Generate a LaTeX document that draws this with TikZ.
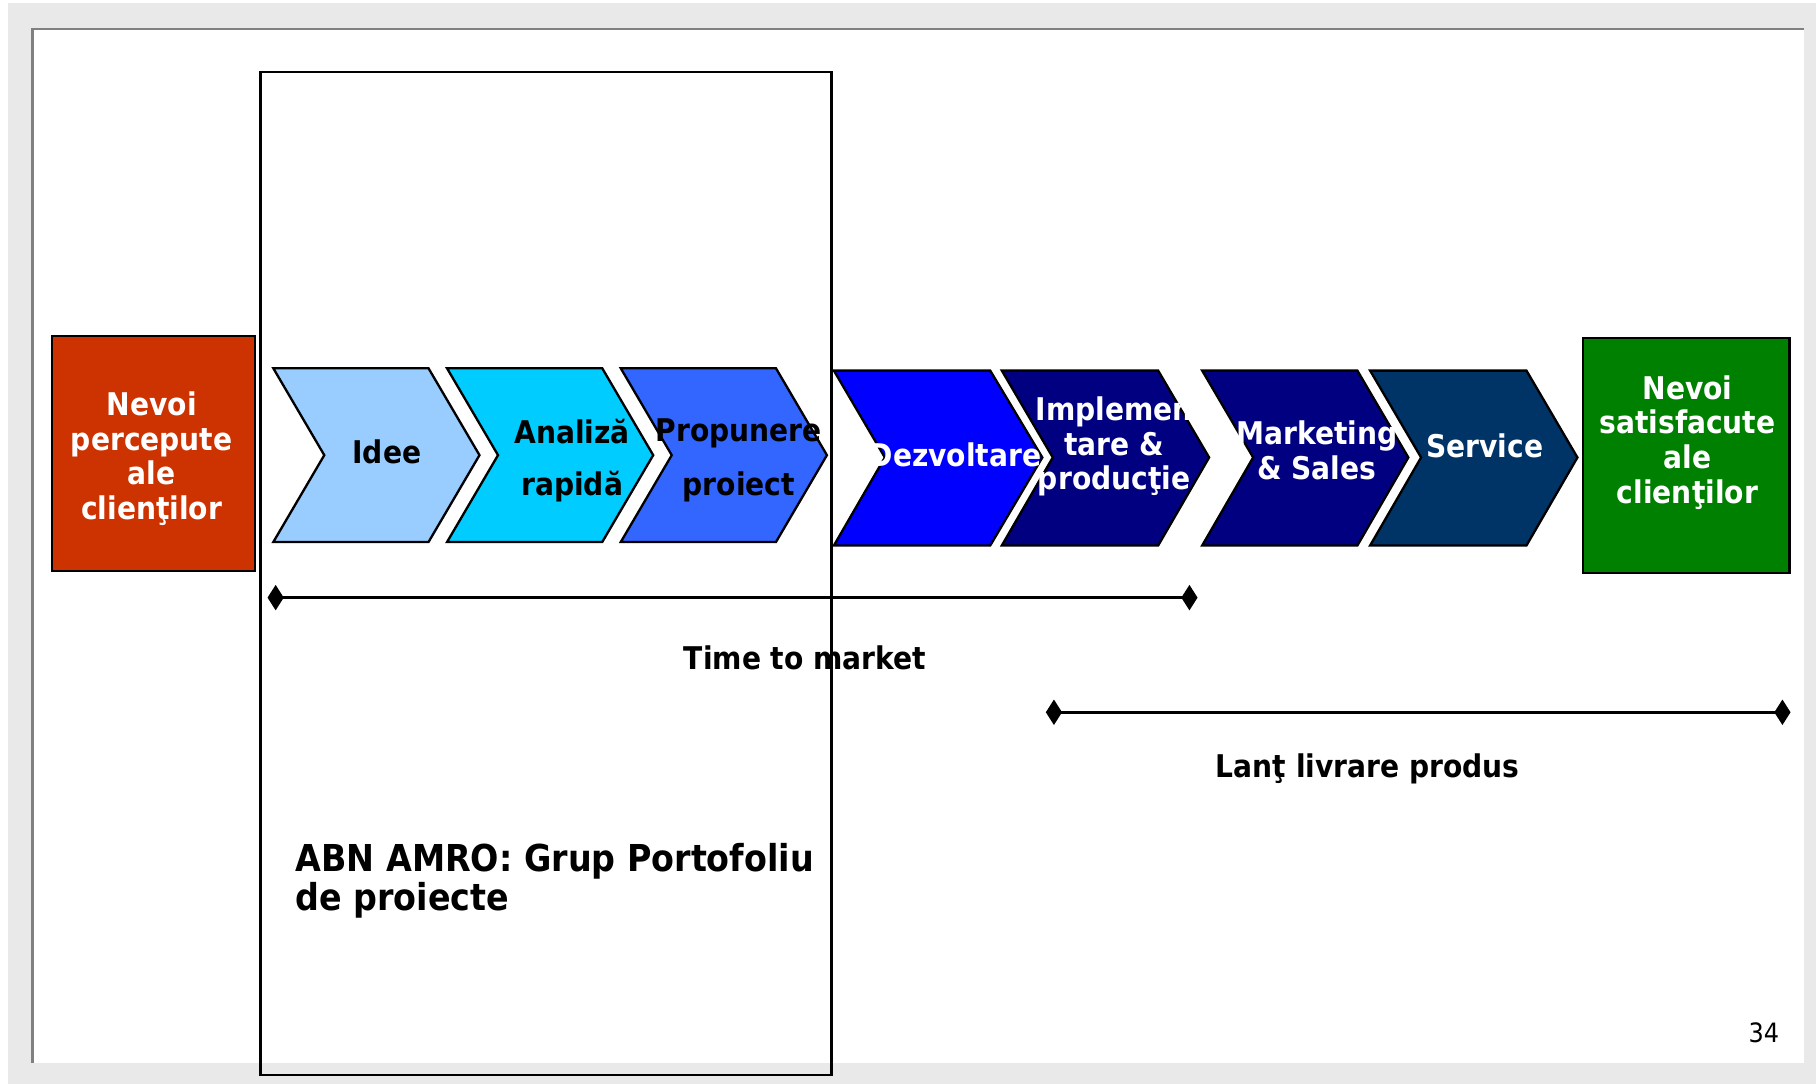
\documentclass[tikz,border=0pt]{standalone}
\usepackage{fontspec}
\setmainfont{DejaVu Sans Condensed}
\usetikzlibrary{arrows.meta}
\definecolor{bggrey}{HTML}{E9E9E9}
\definecolor{framegrey}{HTML}{808080}
\definecolor{redbox}{HTML}{CC3300}
\definecolor{greenbox}{HTML}{008000}
\definecolor{cIdee}{HTML}{99CCFF}
\definecolor{cAnal}{HTML}{00CCFF}
\definecolor{cProp}{HTML}{3366FF}
\definecolor{cDezv}{HTML}{0000FF}
\definecolor{cNavy}{HTML}{000080}
\definecolor{cServ}{HTML}{003366}
\tikzset{
  chev/.style={draw=black, line width=2pt, line join=miter},
  boxtxt/.style={text=white, font=\bfseries\fontsize{27}{30}\selectfont, align=center, inner sep=0pt},
  chevblack/.style={text=black, font=\bfseries\fontsize{27}{30}\selectfont, inner sep=0pt},
  chevwhite/.style={text=white, font=\bfseries\fontsize{27}{30}\selectfont, inner sep=0pt, align=center},
  spanline/.style={line width=2.3pt, {Diamond[length=14pt,width=22pt]}-{Diamond[length=14pt,width=22pt]}},
  labeltxt/.style={font=\bfseries\fontsize{27}{30}\selectfont, inner sep=0pt},
}
\begin{document}
\begin{tikzpicture}[x=1pt,y=-1pt]
\useasboundingbox (0,0) rectangle (1568,936);
% background
\fill[white] (0,0) rectangle (1568,936);
\fill[bggrey] (7,3) rectangle (1568,936);
\fill[white] (29,26) rectangle (1558,918);
\draw[framegrey, line width=2pt] (28,918) -- (28,25) -- (1558,25);

% red box
\node[draw=black, line width=2pt, fill=redbox, minimum width=175pt, minimum height=203pt, inner sep=0pt] (perc) at (132.5,391.5) {};
\node[boxtxt] (perctxt) at (131,396) {Nevoi\\percepute\\ale\\clienţilor};

% green box
\node[draw=black, line width=2pt, fill=greenbox, minimum width=178pt, minimum height=203pt, inner sep=0pt] (sat) at (1456,393.5) {};
\node[boxtxt] (sattxt) at (1457,382) {Nevoi\\satisfacute\\ale\\clienţilor};

% chevrons row 1
\filldraw[chev, fill=cIdee] (236,318) -- (370,318) -- (414,393) -- (370,468) -- (236,468) -- (280,393) -- cycle;
\filldraw[chev, fill=cAnal] (386,318) -- (520,318) -- (564,393) -- (520,468) -- (386,468) -- (430,393) -- cycle;
\filldraw[chev, fill=cProp] (536,318) -- (670,318) -- (714,393) -- (670,468) -- (536,468) -- (580,393) -- cycle;
% chevrons row 2
\filldraw[chev, fill=cDezv] (720,320) -- (855,320) -- (900,395) -- (855,471) -- (720,471) -- (764,395) -- cycle;
\filldraw[chev, fill=cNavy] (865,320) -- (1000,320) -- (1044,395) -- (1000,471) -- (865,471) -- (909,395) -- cycle;
\filldraw[chev, fill=cNavy] (1038,320) -- (1172,320) -- (1216,395) -- (1172,471) -- (1038,471) -- (1082,395) -- cycle;
\filldraw[chev, fill=cServ] (1183,320) -- (1318,320) -- (1362,395) -- (1318,471) -- (1183,471) -- (1227,395) -- cycle;

% chevron texts
\node[chevblack] (idee) at (334,390) {Idee};
\node[chevblack] (anal1) at (494,373) {Analiză};
\node[chevblack] (anal2) at (494,420) {rapidă};
\node[chevblack] (prop1) at (638,374) {Propunere};
\node[chevblack] (prop2) at (638,420) {proiect};
\node[chevwhite] (dezv) at (825,393) {Dezvoltare};
\node[chevwhite] (impl) at (962,385.5) {Implemen\\tare \&\\producţie};
\node[chevwhite] (mark) at (1137,389) {Marketing\\\& Sales};
\node[chevwhite] (serv) at (1282,385) {Service};

% portfolio box
\node[draw=black, line width=2pt, minimum width=493pt, minimum height=866pt, inner sep=0pt] (portf) at (471.5,495) {};
\node[anchor=west, align=left, inner sep=0pt, font=\bfseries\fontsize{32}{34.5}\selectfont] (abn) at (255,760.5) {ABN AMRO: Grup Portofoliu\\de proiecte};

% spans
\coordinate (ttmA) at (231,516);
\coordinate (ttmB) at (1034,516);
\draw[spanline] (ttmA) -- (ttmB);
\node[labeltxt] (ttm) at (695,568) {Time to market};
\coordinate (lanA) at (903,615);
\coordinate (lanB) at (1546,615);
\draw[spanline] (lanA) -- (lanB);
\node[labeltxt] (lan) at (1181,664) {Lanţ livrare produs};

% page number
\node[inner sep=0pt, font=\fontsize{23}{25}\selectfont] (pnum) at (1523,892) {34};
\end{tikzpicture}
\end{document}
